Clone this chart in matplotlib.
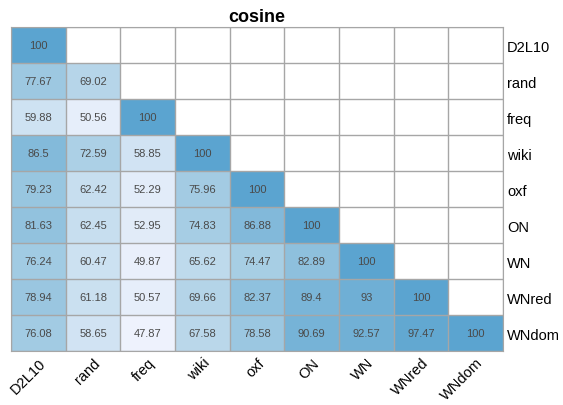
import numpy as np
import matplotlib.pyplot as plt
from matplotlib.colors import LinearSegmentedColormap

plt.rcParams['font.family'] = ['Liberation Sans', 'DejaVu Sans']

labels = ['D2L10', 'rand', 'freq', 'wiki', 'oxf', 'ON', 'WN', 'WNred', 'WNdom']

# lower triangle, row by row
rows = [
    [100],
    [77.67, 69.02],
    [59.88, 50.56, 100],
    [86.5, 72.59, 58.85, 100],
    [79.23, 62.42, 52.29, 75.96, 100],
    [81.63, 62.45, 52.95, 74.83, 86.88, 100],
    [76.24, 60.47, 49.87, 65.62, 74.47, 82.89, 100],
    [78.94, 61.18, 50.57, 69.66, 82.37, 89.4, 93, 100],
    [76.08, 58.65, 47.87, 67.58, 78.58, 90.69, 92.57, 97.47, 100],
]

n = len(labels)
mat = np.full((n, n), np.nan)
for i, r in enumerate(rows):
    mat[i, :len(r)] = r

cmap = LinearSegmentedColormap.from_list(
    'tb', [(0, '#eef2fd'), (0.5, '#a9cfe5'), (1, '#5ba4d0')])
vmin = np.nanmin(mat)
vmax = np.nanmax(mat)

fig = plt.figure(figsize=(5.63, 4.06), dpi=100)
ax = fig.add_axes([0.0195, 0.133, 0.874, 0.798])
ax.imshow(np.ma.masked_invalid(mat), cmap=cmap, vmin=vmin, vmax=vmax,
          aspect='auto', interpolation='nearest')

for i in range(n):
    for j in range(n):
        if not np.isnan(mat[i, j]):
            ax.text(j, i, '%g' % mat[i, j], ha='center', va='center',
                    fontsize=8, color='#4a4a4a')

ax.set_xticks(range(n))
ax.set_xticklabels(labels, rotation=45, ha='right', rotation_mode='anchor', fontsize=10.5)
ax.set_yticks(range(n))
ax.set_yticklabels(labels, fontsize=10.5)
ax.yaxis.tick_right()
ax.tick_params(length=0, pad=3)

ax.set_xticks(np.arange(-0.5, n, 1), minor=True)
ax.set_yticks(np.arange(-0.5, n, 1), minor=True)
ax.tick_params(which='minor', length=0)
ax.grid(which='minor', color='#a6a6a6', linewidth=1)
for s in ax.spines.values():
    s.set_color('#a6a6a6')

ax.set_title('cosine', fontsize=13, fontweight='bold', pad=4)

fig.savefig('out.png', dpi=100)
